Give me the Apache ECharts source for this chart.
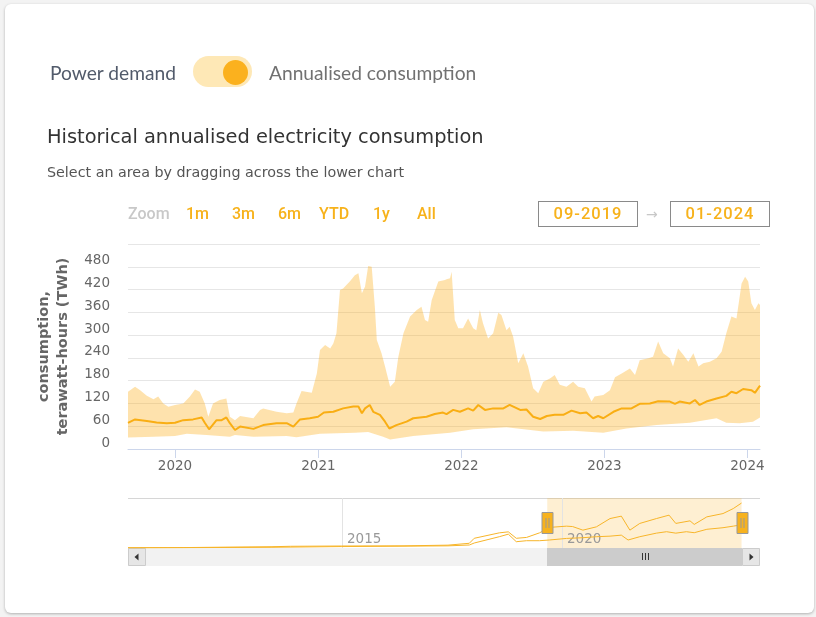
<!DOCTYPE html>
<html><head><meta charset="utf-8">
<script src="https://cdn.jsdelivr.net/npm/echarts/dist/echarts.min.js"></script>
<style>
html,body{margin:0;padding:0;width:816px;height:617px;overflow:hidden;background:#f3f3f3;}
#card{position:absolute;left:5px;top:4px;width:809px;height:609px;background:#fff;border-radius:6px;box-shadow:0 1px 3px rgba(0,0,0,0.28);}
#chart{position:absolute;left:0;top:0;width:816px;height:617px;}
.t{position:absolute;white-space:nowrap;}
.tg{font-family:Lato;font-size:19.2px;line-height:24px;top:61px;}
.rs{font-family:Roboto;font-weight:500;font-size:16px;line-height:20px;top:204px;color:#f7b21b;}
.box{position:absolute;top:201px;width:100px;height:26px;box-sizing:border-box;border:1px solid #8a8a8a;text-align:center;line-height:24px;font-family:Roboto;font-weight:500;font-size:16.5px;letter-spacing:1px;color:#f7b21b;}
</style></head><body>
<div id="card"></div>
<div id="chart"></div>
<div class="t tg" style="left:50px;color:#525b6b">Power demand</div>
<div style="position:absolute;left:193px;top:56px;width:59px;height:31px;border-radius:16px;background:#fee8b6"></div>
<div style="position:absolute;left:223px;top:60px;width:25px;height:25px;border-radius:50%;background:#fbb11e"></div>
<div class="t tg" style="left:269px;color:#717171">Annualised consumption</div>
<div class="t" style="left:47px;top:124px;font:19.4px 'DejaVu Sans';line-height:26px;color:#333">Historical annualised electricity consumption</div>
<div class="t" style="left:47px;top:161px;font:14.3px 'DejaVu Sans';line-height:22px;color:#555">Select an area by dragging across the lower chart</div>
<div class="t rs" style="left:128px;color:#c8c8c8">Zoom</div>
<div class="t rs" style="left:186px">1m</div>
<div class="t rs" style="left:232px">3m</div>
<div class="t rs" style="left:278px">6m</div>
<div class="t rs" style="left:319px">YTD</div>
<div class="t rs" style="left:373px">1y</div>
<div class="t rs" style="left:417px">All</div>
<div class="box" style="left:538px">09-2019</div>
<div class="t" style="left:646px;top:204px;font:14px 'DejaVu Sans';line-height:20px;color:#c8c8c8">→</div>
<div class="box" style="left:670px">01-2024</div>
<script>
// ---------- data ----------
const viewRange = ['2019-09-03', '2024-02-02'];
const navRange = ['2010-02-22', '2024-07-04'];
const yTicks = [0, 540, 60];
const navTickLabels = ['2015', '2020'];
const navTickDates = ['2015-01-01', '2020-01-01'];

const bandHigh = [
['2019-09-03',151],['2019-09-21',164],['2019-10-04',155],['2019-10-21',140],['2019-11-07',131],['2019-11-19',138],
['2019-12-02',120],['2019-12-15',111],['2020-01-01',116],['2020-01-22',120],['2020-02-08',138],['2020-02-21',157],
['2020-03-04',151],['2020-03-17',120],['2020-03-26',85],['2020-04-07',120],['2020-04-24',129],['2020-05-11',133],
['2020-05-20',85],['2020-06-02',76],['2020-06-15',87],['2020-07-19',81],['2020-08-05',103],['2020-08-13',107],
['2020-09-16',98],['2020-10-12',94],['2020-10-29',96],['2020-11-06',120],['2020-11-19',153],['2020-12-15',148],
['2020-12-28',199],['2021-01-05',261],['2021-01-18',274],['2021-01-31',265],['2021-02-08',278],['2021-02-16',305],
['2021-02-25',419],['2021-03-05',423],['2021-03-22',441],['2021-04-04',458],['2021-04-13',463],['2021-04-22',410],
['2021-04-30',428],['2021-05-08',482],['2021-05-17',480],['2021-05-25',375],['2021-05-30',287],['2021-06-11',252],
['2021-06-20',217],['2021-07-03',164],['2021-07-15',177],['2021-07-24',243],['2021-08-06',305],['2021-08-23',349],
['2021-09-09',366],['2021-09-21',375],['2021-09-30',340],['2021-10-08',335],['2021-10-17',392],['2021-11-03',441],
['2021-11-20',445],['2021-11-24',447],['2021-12-03',450],['2021-12-07',467],['2021-12-15',340],['2021-12-24',318],
['2022-01-05',318],['2022-01-18',344],['2022-01-31',318],['2022-02-08',313],['2022-02-17',366],['2022-02-25',331],
['2022-03-10',291],['2022-03-23',305],['2022-04-05',359],['2022-04-13',353],['2022-04-26',313],['2022-05-04',322],
['2022-05-13',296],['2022-05-26',226],['2022-06-08',252],['2022-06-20',217],['2022-07-03',160],['2022-07-16',147],
['2022-07-29',177],['2022-08-15',186],['2022-08-27',195],['2022-09-09',169],['2022-09-26',164],['2022-10-13',177],
['2022-10-26',164],['2022-11-12',160],['2022-11-29',125],['2022-12-07',138],['2022-12-29',142],['2023-01-15',155],
['2023-01-28',189],['2023-02-14',199],['2023-03-07',212],['2023-03-20',195],['2023-04-01',234],['2023-04-23',239],
['2023-05-05',243],['2023-05-18',283],['2023-05-31',252],['2023-06-17',239],['2023-06-25',217],['2023-07-08',265],
['2023-07-21',248],['2023-08-03',230],['2023-08-16',252],['2023-08-29',217],['2023-09-10',226],['2023-09-27',230],
['2023-10-14',239],['2023-10-27',256],['2023-11-08',305],['2023-11-21',349],['2023-12-04',344],['2023-12-17',436],
['2023-12-26',454],['2024-01-03',441],['2024-01-11',384],['2024-01-20',366],['2024-01-29',384],['2024-02-02',379]
];
const bandLow = [
['2019-09-03',30],['2019-11-07',32],['2020-01-01',34],['2020-01-31',40],['2020-03-21',37],['2020-05-20',32],
['2020-06-02',37],['2020-07-19',32],['2020-10-12',34],['2020-11-06',31],['2021-01-05',40],['2021-04-04',43],
['2021-05-08',45],['2021-06-15',32],['2021-07-03',25],['2021-08-31',34],['2021-12-03',43],['2022-01-31',52],
['2022-04-26',57],['2022-07-29',46],['2022-10-13',48],['2022-12-29',43],['2023-02-26',54],['2023-05-14',63],
['2023-08-07',69],['2023-10-14',81],['2023-11-08',69],['2023-12-12',68],['2024-01-15',72],['2024-02-02',83]
];
const median = [
['2019-09-03',69],['2019-09-21',78],['2019-10-21',74],['2019-11-15',70],['2019-12-11',68],['2020-01-01',69],
['2020-01-22',76],['2020-02-16',78],['2020-03-09',83],['2020-03-17',69],['2020-03-28',52],['2020-04-16',76],
['2020-04-29',76],['2020-05-11',83],['2020-05-20',68],['2020-06-02',50],['2020-06-15',59],['2020-07-19',53],
['2020-08-13',63],['2020-09-16',68],['2020-10-12',68],['2020-10-29',59],['2020-11-15',78],['2020-12-10',81],
['2020-12-31',85],['2021-01-15',96],['2021-02-08',98],['2021-03-05',107],['2021-03-31',112],['2021-04-13',112],
['2021-04-22',94],['2021-04-30',107],['2021-05-12',116],['2021-05-21',98],['2021-06-07',90],['2021-06-20',72],
['2021-07-01',54],['2021-07-19',63],['2021-08-14',72],['2021-08-31',81],['2021-10-04',85],['2021-10-25',92],
['2021-11-15',96],['2021-11-24',92],['2021-12-11',103],['2021-12-28',98],['2022-01-18',107],['2022-01-31',101],
['2022-02-13',116],['2022-03-02',103],['2022-03-23',107],['2022-04-18',107],['2022-05-04',116],['2022-05-31',103],
['2022-06-16',104],['2022-07-03',85],['2022-07-21',79],['2022-08-07',87],['2022-08-27',90],['2022-09-18',90],
['2022-10-09',101],['2022-10-31',94],['2022-11-16',96],['2022-12-03',81],['2022-12-16',87],['2022-12-29',81],
['2023-01-24',98],['2023-02-14',107],['2023-03-11',107],['2023-04-01',119],['2023-04-27',120],['2023-05-18',126],
['2023-06-17',125],['2023-06-30',119],['2023-07-12',125],['2023-08-07',120],['2023-08-20',129],['2023-09-01',116],
['2023-09-18',125],['2023-10-14',133],['2023-11-08',140],['2023-11-21',151],['2023-12-04',147],['2023-12-21',158],
['2024-01-11',155],['2024-01-20',148],['2024-02-02',167]
];
const navUpper = [
['2010-02-22',2],['2011-06-01',3],['2013-06-01',9],['2013-11-01',12],['2015-01-01',14],['2016-06-01',15],
['2017-06-01',20],['2017-11-25',33],['2018-01-05',68],['2018-08-01',106],['2018-10-15',113],['2018-12-20',68],
['2019-03-15',74],['2019-07-01',106],['2019-09-20',144],['2020-02-10',153],['2020-04-01',150],['2020-06-25',125],
['2020-10-15',148],['2021-02-05',206],['2021-05-10',223],['2021-07-20',125],['2021-10-10',172],['2022-02-25',206],
['2022-06-10',230],['2022-08-05',172],['2022-12-01',190],['2023-01-05',165],['2023-04-20',218],['2023-09-01',241],
['2023-11-25',276],['2024-02-02',315]
];
const navLower = [
['2010-02-22',1],['2013-06-01',5],['2015-01-01',10],['2017-06-01',15],['2017-11-25',21],['2018-01-05',35],
['2018-08-01',79],['2018-10-15',97],['2018-12-20',44],['2019-03-15',51],['2019-07-01',51],['2019-09-20',56],
['2020-02-10',67],['2020-06-25',72],['2020-10-15',79],['2021-02-05',83],['2021-05-10',90],['2021-07-05',56],
['2021-10-10',79],['2022-02-25',104],['2022-05-20',114],['2022-08-05',104],['2022-11-01',114],['2023-01-05',107],
['2023-04-20',131],['2023-09-01',142],['2023-11-25',153],['2024-01-15',160],['2024-02-02',150]
];

// ---------- chart ----------
const T = s => new Date(s + 'T00:00:00').getTime();
const P = arr => arr.map(d => [T(d[0]), d[1]]);
const YEAR = 365 * 86400000;
const ORANGE = '#f9ae14';
const FONT = 'DejaVu Sans';

const chart = echarts.init(document.getElementById('chart'), null, {renderer: 'canvas'});
chart.setOption({
  animation: false,
  backgroundColor: 'transparent',
  textStyle: {fontFamily: FONT},
  grid: [
    {left: 128, right: 56, top: 244, height: 205},
    {left: 128, right: 56, top: 498, height: 50}
  ],
  xAxis: [
    {type: 'time', gridIndex: 0, min: T(viewRange[0]), max: T(viewRange[1]),
     minInterval: YEAR, maxInterval: YEAR,
     axisLine: {lineStyle: {color: '#ccd6eb'}},
     axisTick: {show: true, length: 9, lineStyle: {color: '#ccd6eb'}},
     axisLabel: {formatter: '{yyyy}', color: '#666', fontSize: 13.5, margin: 10, fontFamily: FONT},
     splitLine: {show: false}},
    {type: 'time', gridIndex: 1, min: T(navRange[0]), max: T(navRange[1]), show: false}
  ],
  yAxis: [
    {type: 'value', gridIndex: 0, min: yTicks[0], max: yTicks[1], interval: yTicks[2],
     axisLine: {show: false}, axisTick: {show: false},
     axisLabel: {formatter: v => v === yTicks[1] ? '' : String(v), color: '#666', fontSize: 13.5,
                 margin: 18, verticalAlign: 'bottom', lineHeight: 12, fontFamily: FONT},
     splitLine: {lineStyle: {color: '#e6e6e6'}},
     name: 'consumption,\nterawatt-hours (TWh)', nameLocation: 'middle', nameRotate: 90, nameGap: 55,
     nameTextStyle: {fontWeight: 'bold', fontSize: 14.5, color: '#666', lineHeight: 19, fontFamily: FONT}},
    {type: 'value', gridIndex: 1, min: 0, max: 350, show: false}
  ],
  graphic: [
    {type: 'rect', shape: {x: 128, y: 548, width: 632, height: 18}, style: {fill: '#f2f2f2'}, z: 1},
    {type: 'rect', shape: {x: 128.5, y: 548.5, width: 17, height: 17}, style: {fill: '#e6e6e6', stroke: '#cccccc'}, z: 1},
    {type: 'rect', shape: {x: 742.5, y: 548.5, width: 17, height: 17}, style: {fill: '#e6e6e6', stroke: '#cccccc'}, z: 1},
    {type: 'polygon', shape: {points: [[134.5, 557], [138.5, 553.5], [138.5, 560.5]]}, style: {fill: '#333'}, z: 1},
    {type: 'polygon', shape: {points: [[753.5, 557], [749.5, 553.5], [749.5, 560.5]]}, style: {fill: '#333'}, z: 1},
    {type: 'line', shape: {x1: 128, y1: 498.5, x2: 760, y2: 498.5}, style: {stroke: '#d6d6d6', lineWidth: 1}, z: 1}
  ],
  series: [
    {type: 'custom', name: 'range', xAxisIndex: 0, yAxisIndex: 0, silent: true, clip: true, z: 2,
     data: [[T(viewRange[0]), 0]], encode: {x: 0, y: 1},
     renderItem: (params, api) => {
       const pts = P(bandHigh).map(p => api.coord(p))
         .concat(P(bandLow).reverse().map(p => api.coord(p)));
       return {type: 'polygon', shape: {points: pts}, style: {fill: 'rgba(251,176,28,0.36)'}};
     }},
    {type: 'line', name: 'median', xAxisIndex: 0, yAxisIndex: 0, data: P(median), showSymbol: false,
     lineStyle: {color: ORANGE, width: 2}, z: 3},
    {type: 'custom', name: 'navTicks', xAxisIndex: 1, yAxisIndex: 1, silent: true, clip: false, z: 2,
     data: navTickDates.map(d => [T(d), 0]), encode: {x: 0, y: 1},
     renderItem: (params, api) => {
       const x = Math.round(api.coord([api.value(0), 0])[0]) + 0.5;
       const cs = params.coordSys;
       return {type: 'group', children: [
         {type: 'line', shape: {x1: x, y1: cs.y, x2: x, y2: cs.y + cs.height}, style: {stroke: '#e3e3e3', lineWidth: 1}},
         {type: 'text', x: x + 4.5, y: cs.y + cs.height - 9,
          style: {text: navTickLabels[params.dataIndex], fill: '#999', font: '13.5px "DejaVu Sans"', align: 'left', verticalAlign: 'middle'}}
       ]};
     }},
    {type: 'line', name: 'navUpper', xAxisIndex: 1, yAxisIndex: 1, data: P(navUpper), showSymbol: false,
     lineStyle: {color: '#f7b52a', width: 1}, z: 3,
     markArea: {silent: true, itemStyle: {color: 'rgba(251,176,28,0.2)'},
                data: [[{xAxis: T(viewRange[0])}, {xAxis: T(viewRange[1])}]]}},
    {type: 'line', name: 'navLower', xAxisIndex: 1, yAxisIndex: 1, data: P(navLower), showSymbol: false,
     lineStyle: {color: '#f7b52a', width: 1}, z: 3},
    {type: 'custom', name: 'selector', xAxisIndex: 1, yAxisIndex: 1, silent: true, clip: false, z: 10,
     data: [[T(viewRange[0]), T(viewRange[1]), 0]], encode: {x: [0, 1], y: 2},
     renderItem: (params, api) => {
       const cs = params.coordSys;
       const x1 = Math.round(api.coord([api.value(0), 0])[0]);
       const x2 = Math.round(api.coord([api.value(1), 0])[0]);
       const yb = cs.y + cs.height, yc = cs.y + cs.height / 2, xm = Math.round((x1 + x2) / 2);
       const handle = x => ({type: 'group', children: [
         {type: 'rect', shape: {x: x - 5.5, y: yc - 10.5, width: 11, height: 21}, style: {fill: '#f7b21e', stroke: '#999', lineWidth: 1}},
         {type: 'line', shape: {x1: x - 1.5, y1: yc - 5, x2: x - 1.5, y2: yc + 5}, style: {stroke: '#999', lineWidth: 1}},
         {type: 'line', shape: {x1: x + 1.5, y1: yc - 5, x2: x + 1.5, y2: yc + 5}, style: {stroke: '#999', lineWidth: 1}}
       ]});
       const grip = [-3, 0, 3].map(d => ({type: 'line', shape: {x1: xm + d + 0.5, y1: yb + 5, x2: xm + d + 0.5, y2: yb + 12}, style: {stroke: '#333', lineWidth: 1}}));
       return {type: 'group', children: [
         {type: 'rect', shape: {x: x1, y: yb, width: x2 - x1, height: 18}, style: {fill: '#cccccc'}},
         ...grip, handle(x1 + 0.5), handle(x2 + 0.5)
       ]};
     }}
  ]
});
</script>
</body></html>
